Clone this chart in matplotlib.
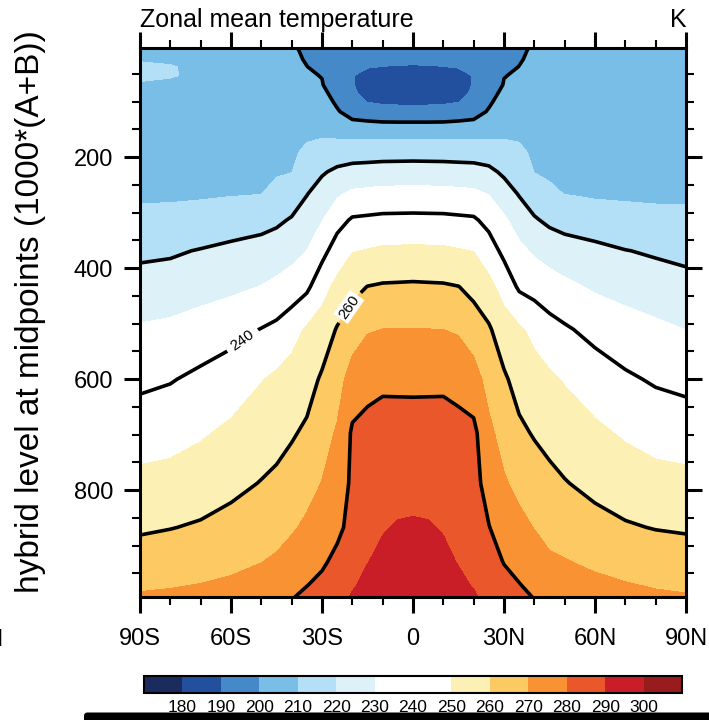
import numpy as np
import matplotlib
matplotlib.use("Agg")
import matplotlib.pyplot as plt
from matplotlib.colors import ListedColormap
from matplotlib.patches import FancyBboxPatch
from matplotlib.ticker import FixedLocator

plt.rcParams["font.family"] = ["Liberation Sans", "DejaVu Sans"]

# -------------------------------------------------
# Data: zonal mean temperature (K), hybrid midpoint levels
# -------------------------------------------------

lat = [-90, -80, -70, -60, -50, -45, -40, -35, -30, -25, -20, -15, -10, -5, 0,
       5, 10, 15, 20, 25, 30, 35, 40, 45, 50, 60, 70, 80, 90]

lev = [3.54, 7.39, 13.97, 23.94, 37.23, 53.11, 70.06, 85.44, 100.51,
       118.25, 139.12, 163.66, 192.54, 226.51, 266.48, 313.50, 368.82,
       433.90, 510.46, 600.52, 696.80, 787.70, 867.16, 929.65, 970.55,
       992.56]

# one column per latitude, top level first
t_90s = [207.0, 207.5, 208.5, 209.6, 210.8, 210.7, 209.6, 208.8, 208.3, 208.0, 207.8, 207.8, 208.0,
         208.6, 209.4, 211.0, 217.8, 224.3, 231.0, 237.9, 245.5, 252.6, 258.7, 264.6, 268.7, 271.0]
t_80s = [206.5, 207.0, 208.0, 209.2, 210.3, 210.3, 209.2, 208.5, 208.1, 207.9, 207.7, 207.7, 207.9,
         208.5, 209.4, 211.2, 218.6, 225.1, 231.9, 239.4, 246.5, 253.4, 259.7, 265.5, 269.4, 271.4]
t_70s = [205.5, 206.0, 207.0, 208.2, 209.0, 209.2, 208.6, 208.1, 207.8, 207.6, 207.5, 207.5, 207.8,
         208.4, 209.5, 211.7, 220.6, 226.6, 234.0, 242.2, 248.9, 255.2, 261.0, 266.6, 270.2, 272.0]
t_60s = [204.5, 205.0, 206.0, 207.0, 207.8, 208.2, 208.2, 208.0, 207.8, 207.6, 207.5, 207.6, 208.0,
         208.7, 209.4, 215.5, 222.0, 228.0, 236.8, 244.9, 251.9, 257.5, 263.2, 268.1, 271.3, 273.0]
t_50s = [202.5, 202.8, 203.3, 204.0, 204.8, 205.5, 206.1, 206.5, 206.8, 207.0, 207.2, 207.6, 208.1,
         208.8, 209.9, 216.9, 223.5, 230.3, 240.3, 249.6, 255.2, 260.4, 265.8, 269.9, 272.8, 274.3]
t_45s = [201.5, 201.7, 202.0, 202.4, 202.9, 203.5, 204.1, 204.7, 205.3, 205.9, 206.6, 207.4, 208.3,
         209.2, 212.4, 218.4, 224.7, 232.2, 242.2, 251.8, 256.8, 261.9, 267.0, 271.2, 274.5, 276.3]
t_40s = [200.6, 200.7, 200.8, 200.8, 201.0, 201.5, 202.2, 203.0, 203.8, 204.8, 205.9, 207.2, 208.5,
         209.8, 214.8, 220.8, 227.0, 234.4, 246.3, 253.9, 259.0, 264.2, 268.9, 273.9, 277.6, 279.6]
t_35s = [199.0, 199.2, 199.4, 199.7, 200.05, 200.7, 201.5, 202.6, 203.7, 205.0, 206.6, 209.0, 211.9,
         215.5, 219.7, 224.4, 230.1, 238.1, 251.2, 256.2, 261.6, 266.7, 271.7, 276.6, 279.8, 281.5]
t_30s = [197.1, 197.4, 197.9, 198.6, 199.0, 199.8, 200.4, 202.2, 203.6, 205.3, 207.3, 209.6, 213.8,
         219.0, 224.0, 229.7, 237.0, 246.4, 254.5, 261.3, 265.9, 270.3, 275.2, 279.0, 281.6, 283.0]
t_25s = [196.3, 196.2, 196.0, 195.7, 195.3, 195.0, 195.4, 196.8, 198.7, 200.8, 204.8, 209.2, 215.1,
         221.8, 228.7, 236.6, 244.5, 252.6, 260.7, 265.9, 271.1, 275.0, 278.4, 281.8, 284.5, 286.0]
t_20s = [195.5, 195.0, 194.0, 192.8, 191.5, 190.3, 190.3, 191.0, 194.0, 196.5, 201.7, 208.7, 215.8,
         223.4, 231.8, 241.1, 249.5, 257.4, 265.0, 274.5, 281.3, 281.6, 282.2, 285.8, 289.0, 291.0]
t_15s = [194.9, 194.2, 193.2, 192.1, 190.4, 188.0, 187.8, 188.3, 189.7, 194.7, 201.3, 208.6, 216.0,
         223.9, 232.4, 241.7, 250.5, 260.2, 269.2, 277.5, 282.4, 285.0, 287.4, 289.8, 292.2, 293.2]
t_10s = [194.3, 193.5, 192.5, 191.5, 189.9, 186.8, 185.8, 186.7, 189.0, 192.9, 200.9, 208.5, 216.3,
         224.4, 233.0, 242.3, 251.6, 261.0, 270.1, 278.6, 283.0, 286.8, 289.4, 292.0, 293.8, 294.5]
t_5s = [194.1, 193.2, 192.2, 191.1, 189.8, 186.4, 185.4, 186.3, 188.7, 192.7, 200.8, 208.5, 216.4,
        224.5, 233.1, 242.4, 251.7, 261.2, 270.1, 278.5, 283.1, 287.1, 290.6, 292.7, 294.4, 295.2]
t_eq = [194.0, 193.0, 192.0, 190.8, 189.7, 186.0, 185.0, 186.0, 188.5, 192.6, 200.8, 208.5, 216.5,
        224.6, 233.2, 242.5, 251.9, 261.4, 270.2, 278.4, 283.2, 287.3, 290.9, 293.4, 295.0, 296.0]
t_5n = [194.1, 193.2, 192.2, 191.1, 189.8, 186.4, 185.4, 186.3, 188.7, 192.7, 200.8, 208.5, 216.4,
        224.5, 233.1, 242.4, 251.7, 261.2, 270.1, 278.5, 283.1, 287.1, 290.6, 292.7, 294.4, 295.2]
t_10n = [194.3, 193.5, 192.5, 191.5, 189.9, 186.8, 185.8, 186.7, 189.0, 192.9, 200.9, 208.5, 216.3,
         224.4, 233.0, 242.3, 251.6, 261.0, 270.0, 278.6, 283.0, 286.8, 289.4, 292.0, 293.8, 294.5]
t_15n = [194.9, 194.2, 193.2, 192.1, 190.4, 188.0, 187.8, 188.3, 189.7, 194.7, 201.3, 208.6, 216.1,
         224.0, 232.5, 241.8, 250.6, 260.2, 268.9, 277.3, 282.6, 285.5, 287.6, 289.6, 291.8, 293.0]
t_20n = [195.5, 195.0, 194.0, 192.8, 191.5, 190.3, 190.3, 191.0, 194.0, 196.5, 201.7, 208.7, 216.0,
         223.6, 232.0, 241.3, 249.8, 257.3, 265.0, 274.1, 282.3, 283.0, 284.3, 287.0, 289.4, 291.0]
t_25n = [196.3, 196.2, 196.0, 195.7, 195.3, 195.0, 195.4, 196.8, 198.7, 200.8, 204.7, 209.1, 215.2,
         222.2, 229.7, 237.1, 244.6, 252.8, 261.2, 266.6, 272.2, 276.5, 280.3, 283.5, 286.0, 287.5]
t_30n = [197.1, 197.4, 197.9, 198.6, 199.0, 199.8, 200.4, 202.2, 203.6, 205.2, 207.1, 209.4, 213.3,
         218.3, 224.6, 231.5, 237.6, 246.3, 254.5, 261.4, 266.3, 271.1, 275.9, 279.7, 282.6, 284.0]
t_35n = [199.0, 199.2, 199.4, 199.7, 200.05, 200.7, 201.5, 202.6, 203.7, 205.0, 206.6, 209.0, 211.9,
         215.3, 219.4, 225.7, 232.3, 238.6, 251.4, 256.4, 261.9, 267.4, 272.7, 277.3, 280.3, 281.8]
t_40n = [200.6, 200.7, 200.8, 200.8, 201.0, 201.5, 202.2, 203.0, 203.8, 204.8, 205.9, 207.2, 208.5,
         209.8, 214.8, 221.0, 228.6, 236.6, 247.3, 254.0, 259.2, 264.8, 269.7, 274.6, 277.9, 279.7]
t_45n = [201.5, 201.7, 202.0, 202.4, 202.9, 203.5, 204.1, 204.7, 205.3, 205.9, 206.6, 207.4, 208.3,
         209.2, 211.0, 218.1, 225.9, 234.4, 243.4, 251.7, 257.1, 262.4, 267.2, 271.4, 274.8, 276.5]
t_50n = [202.5, 202.8, 203.3, 204.0, 204.8, 205.5, 206.1, 206.5, 206.8, 207.0, 207.2, 207.6, 208.1,
         208.8, 209.9, 216.6, 224.0, 232.2, 241.2, 249.3, 255.2, 260.5, 266.1, 270.5, 273.4, 275.0]
t_60n = [204.0, 204.4, 205.0, 205.8, 206.4, 206.8, 207.0, 207.1, 207.2, 207.2, 207.3, 207.5, 207.9,
         208.6, 209.5, 212.0, 223.5, 228.7, 237.1, 245.0, 251.9, 257.4, 263.2, 268.5, 271.9, 273.6]
t_70n = [204.0, 204.4, 205.0, 205.7, 206.3, 206.7, 206.9, 207.0, 207.1, 207.1, 207.2, 207.4, 207.8,
         208.5, 209.5, 211.2, 220.3, 226.8, 233.9, 241.5, 248.8, 255.2, 260.9, 266.7, 270.5, 272.3]
t_80n = [204.0, 204.3, 204.9, 205.6, 206.2, 206.6, 206.8, 206.9, 207.0, 207.0, 207.1, 207.3, 207.7,
         208.4, 209.5, 210.8, 218.7, 225.1, 231.8, 238.9, 246.3, 253.4, 259.6, 265.4, 269.3, 271.3]
t_90n = [204.0, 204.3, 204.8, 205.4, 206.0, 206.4, 206.6, 206.7, 206.8, 206.9, 207.0, 207.2, 207.6,
         208.3, 209.5, 210.7, 217.2, 223.5, 229.9, 237.4, 245.3, 252.7, 258.9, 264.7, 268.6, 270.7]

fill_levels = [170, 180, 190, 200, 210, 220, 230, 240, 250, 260, 270, 280, 290, 300, 310]
plain_lines = [180, 200, 220, 280, 300]
labelled_lines = [240, 260]
bar_ticks = [180, 190, 200, 210, 220, 230, 240, 250, 260, 270, 280, 290, 300]

fill_colors = ["#1b2b5e", "#23509e", "#4589c8", "#78bee6", "#b3e0f6", "#ddf1f9", "#ffffff",
               "#ffffff", "#fdf0b4", "#fdc962", "#f99233", "#ea572a", "#c91e27", "#981b1e"]

lat_ticks = [-90, -60, -30, 0, 30, 60, 90]
lat_labels = ["90S", "60S", "30S", "0", "30N", "60N", "90N"]

temp = np.column_stack([t_90s, t_80s, t_70s, t_60s, t_50s, t_45s, t_40s, t_35s, t_30s,
                        t_25s, t_20s, t_15s, t_10s, t_5s, t_eq, t_5n, t_10n, t_15n,
                        t_20n, t_25n, t_30n, t_35n, t_40n, t_45n, t_50n, t_60n, t_70n,
                        t_80n, t_90n])

# -------------------------------------------------
# Figure
# -------------------------------------------------

fig = plt.figure(figsize=(7.09, 7.20), dpi=100)
ax = fig.add_axes([140 / 709, 1 - 597 / 720, 546 / 709, 549 / 720])

cf = ax.contourf(lat, lev, temp, levels=fill_levels,
                 cmap=ListedColormap(fill_colors))
ax.set_xlim(-90, 90)
ax.set_ylim(992.56, 3.54)

ax.contour(lat, lev, temp, levels=plain_lines, colors="black", linewidths=2.6)
cs = ax.contour(lat, lev, temp, levels=labelled_lines, colors="black", linewidths=2.6)

labels = cs.clabel(labelled_lines, manual=[(-56.5, 528), (-21.8, 468)],
                   inline=True, fmt="%d", fontsize=11, inline_spacing=6)
for t in labels:
    t.set_bbox(dict(boxstyle="square,pad=0.12", fc="white", ec="none"))

# -------------------------------------------------
# Axes styling
# -------------------------------------------------

ax.xaxis.set_major_locator(FixedLocator(lat_ticks))
ax.set_xticklabels(lat_labels)
ax.xaxis.set_minor_locator(FixedLocator(range(-90, 91, 10)))
ax.yaxis.set_major_locator(FixedLocator([200, 400, 600, 800]))
ax.yaxis.set_minor_locator(FixedLocator(range(50, 1000, 50)))

ax.tick_params(which="both", direction="out", top=True, right=True,
               labeltop=False, labelright=False)
ax.tick_params(which="major", length=11.5, width=2.2, labelsize=17)
ax.tick_params(which="minor", length=5.8, width=1.5)
ax.tick_params(axis="x", which="major", pad=11)
ax.tick_params(axis="y", which="major", pad=8)

for s in ax.spines.values():
    s.set_linewidth(2.2)

fig.text(140 / 709, 1 - 27 / 720, "Zonal mean temperature",
         ha="left", va="baseline", fontsize=18)
fig.text(687 / 709, 1 - 27 / 720, "K", ha="right", va="baseline", fontsize=18)
fig.text(31 / 709, 1 - 312 / 720, "hybrid level at midpoints (1000*(A+B))",
         rotation=90, ha="center", va="center", fontsize=24)

# -------------------------------------------------
# Label bar
# -------------------------------------------------

cax = fig.add_axes([144 / 709, 1 - 693 / 720, 538 / 709, 17 / 720])
cbar = fig.colorbar(cf, cax=cax, orientation="horizontal", ticks=bar_ticks)
cbar.outline.set_linewidth(1.5)
cbar.ax.tick_params(length=0, pad=5, labelsize=12.5)

# pieces of the neighbouring panels that show at the edges
fig.text(4.4 / 709, 1 - 640 / 720, "90N", ha="right", va="center", fontsize=17)
fig.add_artist(FancyBboxPatch((84 / 709, -0.01), 0.9, 7.5 / 720 + 0.01,
                              boxstyle="round,pad=0,rounding_size=0.005",
                              transform=fig.transFigure, fc="black", ec="none"))

fig.savefig("out.png", dpi=100)
